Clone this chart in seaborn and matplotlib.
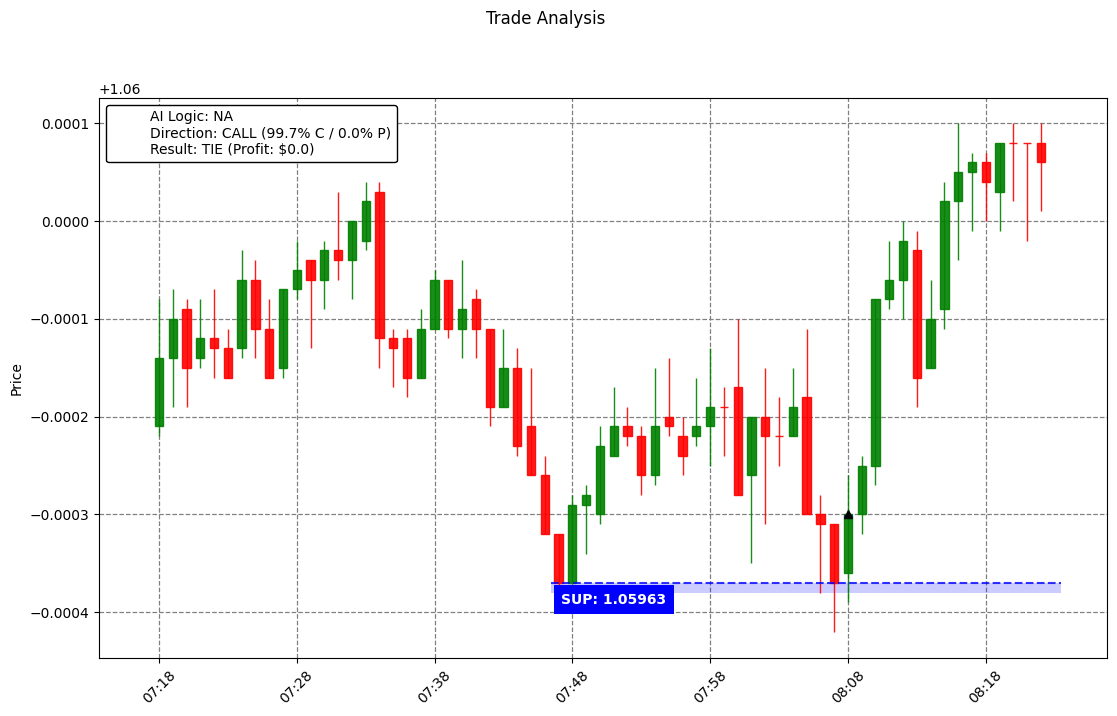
import numpy as np
import pandas as pd
import matplotlib
matplotlib.use("Agg")
import matplotlib.pyplot as plt
from matplotlib.ticker import ScalarFormatter
import seaborn as sns

# ---- data (prices given as pip offsets from 1.06, 1 pip = 0.00001) ----
BASE = 1.06
PIP = 0.00001
start_time = "07:18"
n_candles = 65
open_p = [-21, -14, -9, -14, -12, -13, -13, -6, -11, -15, -7, -4, -6, -3, -4, -2, 3, -12, -12, -16,
          -11, -6, -11, -8, -11, -19, -15, -21, -26, -32, -37, -29, -30, -24, -21, -22, -26, -20, -22, -22,
          -21, -19, -17, -26, -20, -22, -22, -18, -30, -31, -36, -30, -25, -8, -6, -3, -15, -9, 2, 5,
          6, 3, 8, 8, 8]
high_p = [-8, -7, -8, -8, -7, -11, -3, -4, -8, -7, -2, -4, -2, 3, 0, 4, 4, -11, -11, -9,
          -5, -6, -4, -7, -11, -11, -13, -15, -24, -32, -28, -27, -21, -17, -19, -21, -15, -14, -20, -16,
          -13, -17, -10, -20, -15, -18, -15, -11, -28, -31, -26, -24, -8, -2, 0, -1, -6, 4, 10, 7,
          7, 8, 10, 8, 10]
low_p = [-22, -19, -19, -15, -16, -16, -14, -14, -16, -16, -8, -13, -9, -6, -8, -3, -15, -17, -18, -16,
         -11, -12, -14, -14, -21, -19, -24, -26, -32, -37.4, -37, -34, -31, -24, -23, -28, -27, -22, -26, -23,
         -25, -24, -28, -35, -31, -25, -22, -30, -38, -42, -39, -32, -27, -9, -10, -19, -15, -11, -4, -1,
         0, -1, 2, -2, 1]
close_p = [-14, -10, -15, -12, -13, -16, -6, -11, -16, -7, -5, -6, -3, -4, 0, 2, -12, -13, -16, -11,
           -6, -11, -9, -11, -19, -15, -23, -26, -32, -37, -29, -28, -23, -21, -22, -26, -21, -21, -24, -21,
           -19, -19, -28, -20, -22, -22, -19, -30, -31, -37, -30, -25, -8, -6, -2, -16, -10, 2, 5, 6,
           4, 8, 8, 8, 6]

tick_labels = ["07:18", "07:28", "07:38", "07:48", "07:58", "08:08", "08:18"]
support_pips = -37
support_start_min = 28.45
support_end_min = 65.46
support_label_min = 29.2
entry_min = 50
entry_pips = -30

legend_lines = ["AI Logic: NA",
                "Direction: CALL (99.7% C / 0.0% P)",
                "Result: TIE (Profit: $0.0)"]

# ---- build frame ----
times = pd.date_range(f"2024-01-01 {start_time}", periods=n_candles, freq="1min")
df = pd.DataFrame({
    "time": times,
    "open": BASE + np.array(open_p) * PIP,
    "high": BASE + np.array(high_p) * PIP,
    "low": BASE + np.array(low_p) * PIP,
    "close": BASE + np.array(close_p) * PIP,
})
df["minute"] = (df["time"] - df["time"].iloc[0]).dt.total_seconds() / 60.0
df["up"] = df["close"] > df["open"]
df["color"] = np.where(df["up"], "green", "red")

sns.set_style("ticks", {"axes.edgecolor": "black", "text.color": "black",
                        "xtick.color": "black", "ytick.color": "black",
                        "axes.labelcolor": "black"})
plt.rcParams["font.family"] = ["DejaVu Sans"]
plt.rcParams["font.size"] = 10

fig = plt.figure(figsize=(11.17, 7.16), dpi=100)
ax = fig.add_axes([99 / 1117, 1 - 658 / 716, (1107 - 99) / 1117, (658 - 98) / 716])

# wicks
ax.vlines(df["minute"], df["low"], df["high"], colors=df["color"], linewidth=1, alpha=0.9, zorder=3)
# bodies
body_bottom = np.minimum(df["open"], df["close"])
body_height = np.abs(df["close"] - df["open"])
ax.bar(df["minute"], body_height, bottom=body_bottom, width=0.6,
       color=df["color"], edgecolor=df["color"], linewidth=1, alpha=0.9, zorder=4)

# support line & band
sup = BASE + support_pips * PIP
ax.fill_between([support_start_min, support_end_min], sup - PIP, sup, color="blue",
                alpha=0.2, linewidth=0, zorder=2)
ax.plot([support_start_min, support_end_min], [sup, sup], linestyle="--", color="blue",
        linewidth=1.5, alpha=0.8, zorder=5)
ax.text(support_label_min, sup - PIP, f"SUP: {sup:.5f}", color="white", fontweight="bold",
        fontsize=10, ha="left", va="top",
        bbox=dict(facecolor="blue", edgecolor="none", pad=5.5), zorder=6)

# entry marker
entry = BASE + entry_pips * PIP
ax.hlines(entry - 0.2 * PIP, entry_min - 0.3, entry_min + 0.3, colors="blue", linewidth=2, zorder=6)
ax.plot([entry_min], [entry], marker="^", color="black", markersize=6, zorder=7)

# legend: one entry with a multi-line label and an invisible handle
ax.plot([], [], " ", label="\n".join(legend_lines))
leg = ax.legend(loc="upper left", frameon=True, fancybox=True, framealpha=1, fontsize=10)
leg.get_frame().set_edgecolor("black")

ax.grid(True, linestyle="--", color="gray", linewidth=0.9)
ax.set_axisbelow(True)
ax.set_xlim(-4.35, 68.8)
ax.set_ylim(BASE - 44.68 * PIP, BASE + 12.58 * PIP)
ax.set_xticks(np.arange(len(tick_labels)) * 10)
ax.set_xticklabels(tick_labels, rotation=45)
ax.yaxis.set_major_formatter(ScalarFormatter(useOffset=BASE))
ax.set_ylabel("Price")
ax.set_xlabel("")

fig.suptitle("Trade Analysis", x=546 / 1117, y=1 - 10 / 716, fontsize=12)
fig.savefig("out.png", dpi=100)
